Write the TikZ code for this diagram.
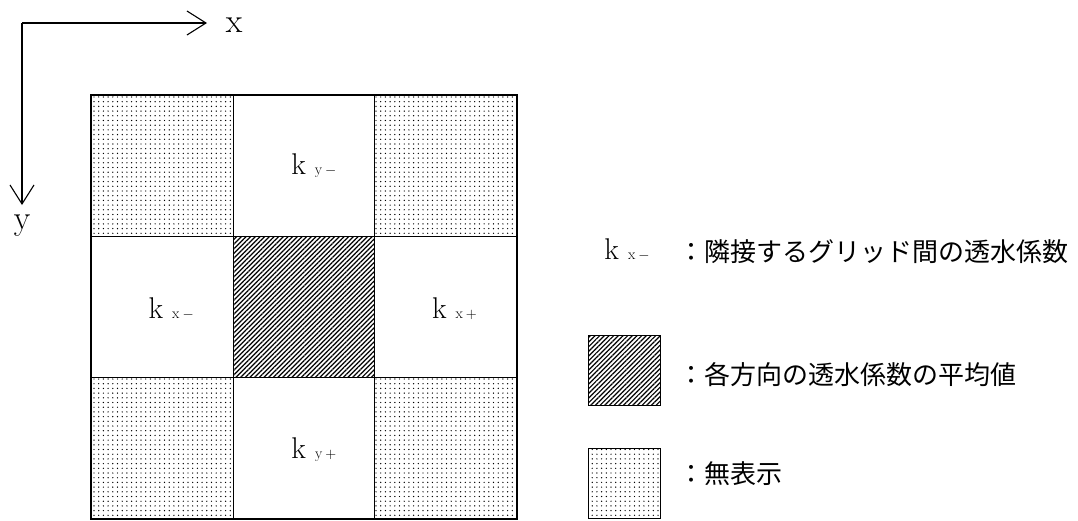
\documentclass[tikz,border=0pt]{standalone}
\usepackage{fontspec}
\newfontfamily\jp{Noto Sans CJK JP}
\usetikzlibrary{arrows.meta,patterns.meta}
\newcommand\klab[2]{{\fontsize{30}{30}\selectfont k\hspace{9pt}{\fontsize{15}{15}\selectfont #1\hspace{3pt}$#2$}}}
\begin{document}
\begin{tikzpicture}[x=1pt,y=-1pt,
  cell/.style={draw=black,line width=0.7pt,inner sep=0pt,anchor=north west,
    minimum width=141.67pt,minimum height=141pt},
  dotfill/.style={pattern={Dots[distance=4.7pt,radius=0.7pt]}},
  hatchfill/.style={pattern={Lines[angle=45,distance=3.3pt,line width=1.2pt]}},
  axis/.style={line width=1.1pt,-{Straight Barb[length=19pt,width=24pt,line width=1.1pt]}},
  lab/.style={font=\fontsize{34}{34}\selectfont},
  jtext/.style={anchor=west,inner sep=0pt,font=\jp\fontsize{26}{26}\selectfont},
  legbox/.style={draw=black,line width=1pt,inner sep=0pt,anchor=north west,
    minimum width=72pt,minimum height=70pt}]
\useasboundingbox (0,0) rectangle (1078,520);
% axes
\coordinate (o) at (22,23);
\coordinate (xe) at (207,23);
\coordinate (ye) at (22,205);
\node[lab] (xl) at (234,25) {x};
\node[lab] (yl) at (22,226) {y};
\draw[axis] (o) -- (xe);
\draw[axis] (o) -- (ye);
% grid cells
\node[cell,dotfill] (c11) at (91,95) {};
\node[cell] (c12) at (232.67,95) {};
\node[cell,dotfill] (c13) at (374.33,95) {};
\node[cell] (c21) at (91,236) {};
\node[cell,hatchfill,line width=1pt] (c22) at (232.67,236) {};
\node[cell] (c23) at (374.33,236) {};
\node[cell,dotfill] (c31) at (91,377) {};
\node[cell] (c32) at (232.67,377) {};
\node[cell,dotfill] (c33) at (374.33,377) {};
\draw[line width=2pt] (c11.north west) rectangle (c33.south east);
% cell labels
\node (kym) at ([xshift=10pt]c12.center) {\klab{y}{-}};
\node (kxm) at ([xshift=9pt,yshift=-2pt]c21.center) {\klab{x}{-}};
\node (kxp) at ([xshift=9pt,yshift=-2pt]c23.center) {\klab{x}{+}};
\node (kyp) at ([xshift=10pt,yshift=-2pt]c32.center) {\klab{y}{+}};
% legend
\node (lk) at (627,250) {\klab{x}{-}};
\node[jtext] (l1) at (678,252) {：隣接するグリッド間の透水係数};
\node[legbox,hatchfill] (hs) at (588,335) {};
\node[jtext] (l2) at (678,375) {：各方向の透水係数の平均値};
\node[legbox,dotfill] (ds) at (588,448) {};
\node[jtext] (l3) at (678,474) {：無表示};
\end{tikzpicture}
\end{document}
